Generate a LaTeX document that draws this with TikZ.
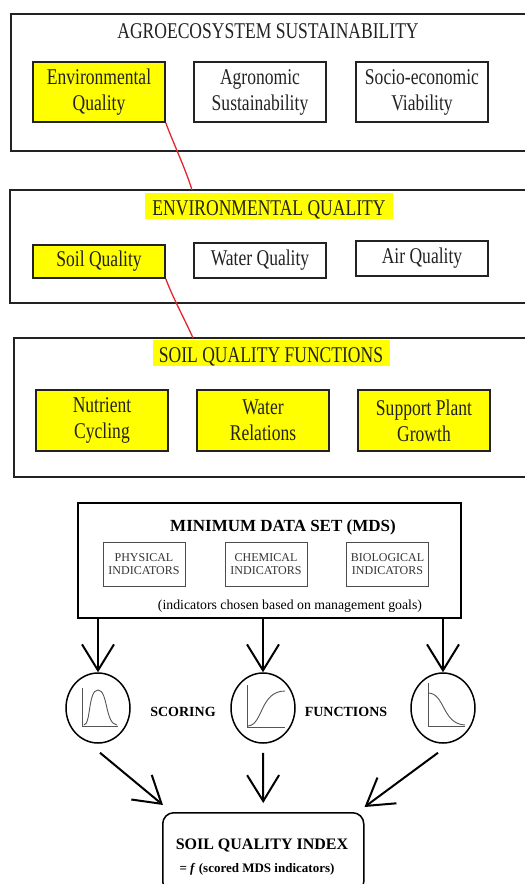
\documentclass[tikz,border=0pt]{standalone}
\usepackage{fontspec}
\setmainfont{Liberation Serif}
\newfontfamily\cond[FakeStretch=0.78]{Liberation Serif}
\usetikzlibrary{arrows.meta,shapes.geometric}
\definecolor{hl}{HTML}{FFFF00}
\definecolor{ink}{HTML}{222222}
\definecolor{redl}{HTML}{E3262E}
\definecolor{crvc}{HTML}{555555}
\begin{document}
\begin{tikzpicture}[x=1pt,y=-1pt,
  outer/.style={draw=ink, line width=1.8pt, inner sep=0pt, anchor=north west},
  tbox/.style={draw=ink, line width=1.6pt, minimum width=132pt, inner sep=0pt, align=center,
    font=\cond\fontsize{22.5}{26}\selectfont, text=ink},
  ybox/.style={tbox, fill=hl},
  ttl/.style={anchor=base, font=\cond\fontsize{22.5}{26}\selectfont, text=ink},
  redc/.style={draw=redl, line width=1.3pt},
  ibox/.style={draw=black!70, line width=0.9pt, minimum width=82pt, minimum height=44pt, inner sep=0pt,
    align=center, font=\fontsize{12}{13}\selectfont, text=black!80},
  circ/.style={draw, ellipse, minimum width=64pt, minimum height=70pt, inner sep=0pt, line width=1.5pt},
  axl/.style={draw=crvc, line width=0.9pt},
  crv/.style={draw=crvc, line width=0.9pt},
  arr/.style={draw, line width=2pt, -{Straight Barb[length=26pt,width=32pt,line width=2pt]}},
  lbl/.style={anchor=base, font=\bfseries\fontsize{14}{16}\selectfont}
]
\useasboundingbox (0,0) rectangle (525,884);
\clip (0,0) rectangle (525,884);

% ---------- section 1
\node[outer, minimum width=520pt, minimum height=137pt] (sec1) at (10,13) {};
\node[ttl] (t1) at (268,38) {AGROECOSYSTEM SUSTAINABILITY};
\node[ybox, minimum height=60pt] (eq) at (99,92) {Environmental\\Quality};
\node[tbox, minimum height=60pt] (agro) at (260,92) {Agronomic\\Sustainability};
\node[tbox, minimum height=60pt] (socio) at (422,92) {Socio-economic\\Viability};

% ---------- section 2
\node[outer, minimum width=521pt, minimum height=113pt] (sec2) at (9,189) {};
\fill[hl] (145,193) rectangle (393,219);
\node[ttl] (t2) at (269,215) {ENVIRONMENTAL QUALITY};
\node[ybox, minimum height=33pt] (sq) at (99,261.5) {Soil Quality};
\node[tbox, minimum height=35pt] (wq) at (260,260.5) {Water Quality};
\node[tbox, minimum height=35pt] (aq) at (422,258.5) {Air Quality};

% ---------- section 3
\node[outer, minimum width=517pt, minimum height=139pt] (sec3) at (13,337) {};
\fill[hl] (153,340) rectangle (390,366);
\node[ttl] (t3) at (271,362) {SOIL QUALITY FUNCTIONS};
\node[ybox, minimum height=61pt] (nc) at (102,420.5) {Nutrient\\Cycling};
\node[ybox, minimum height=61pt] (wr) at (263,420.5) {Water\\Relations};
\node[ybox, minimum height=61pt] (spg) at (424,420.5) {Support Plant\\Growth};

% red connectors
\coordinate (r1) at (192,190);
\coordinate (r2) at (193,338);
\draw[redc] (eq.south east) .. controls (172,140) and (186,170) .. (r1);
\draw[redc] (sq.south east) .. controls (172,296) and (186,322) .. (r2);

% ---------- MDS
\node[draw, line width=1.5pt, minimum width=383pt, minimum height=115pt, inner sep=0pt, anchor=north west] (mds) at (77,502) {};
\node[anchor=base, font=\bfseries\fontsize{17}{20}\selectfont] (mdst) at (283,531) {MINIMUM DATA SET (MDS)};
\node[ibox] (phys) at (144,564) {PHYSICAL\\INDICATORS};
\node[ibox] (chem) at (266,564) {CHEMICAL\\INDICATORS};
\node[ibox] (bio) at (387.5,564) {BIOLOGICAL\\INDICATORS};
\node[anchor=base, font=\fontsize{13.8}{15}\selectfont] (note) at (290,609) {(indicators chosen based on management goals)};

% ---------- scoring functions
\node[circ] (c1) at (98,708) {};
\node[circ] (c2) at (263,708) {};
\node[circ] (c3) at (443,708) {};

\begin{scope}[shift={(c1.center)}]
  \draw[axl] (-16,-20) -- (-16,18) -- (20,18);
  \draw[crv] (-14,17) .. controls (-7,16) and (-10,-18) .. (0,-18) .. controls (10,-18) and (7,16) .. (19,17);
\end{scope}
\begin{scope}[shift={(c2.center)}]
  \draw[axl] (-16,-23) -- (-16,19) -- (22,19);
  \draw[crv] (-15,18) .. controls (0,17) and (-3,-17) .. (22,-17);
\end{scope}
\begin{scope}[shift={(c3.center)}]
  \draw[axl] (-15,-25) -- (-15,18) -- (22,18);
  \draw[crv] (-15,-15) .. controls (2,-15) and (-1,16) .. (22,17);
\end{scope}

\node[lbl] (sc) at (183,716) {SCORING};
\node[lbl] (fn) at (346,716) {FUNCTIONS};

\draw[arr] (c1 |- mds.south) -- (c1.north);
\draw[arr] (c2 |- mds.south) -- (c2.north);
\draw[arr] (c3 |- mds.south) -- (c3.north);

% ---------- index
\node[draw, line width=1.5pt, rounded corners=11pt, minimum width=201pt, minimum height=80pt, inner sep=0pt, anchor=north west] (sqi) at (162,812) {};
\node[anchor=base, font=\bfseries\fontsize{16}{18}\selectfont] (sqit) at (262,849) {SOIL QUALITY INDEX};
\node[anchor=base, font=\bfseries\fontsize{13}{15}\selectfont] (sqif) at (257,872) {= \textit{f} (scored MDS indicators)};

\draw[arr] ([xshift=2pt,yshift=-9pt]c1.south) -- ([xshift=1pt,yshift=7pt]sqi.north west);
\draw[arr] ([yshift=-9pt]c2.south) -- ([yshift=9pt]sqi.north);
\draw[arr] ([xshift=-5pt,yshift=-9pt]c3.south) -- ([yshift=5pt]sqi.north east);
\end{tikzpicture}
\end{document}
